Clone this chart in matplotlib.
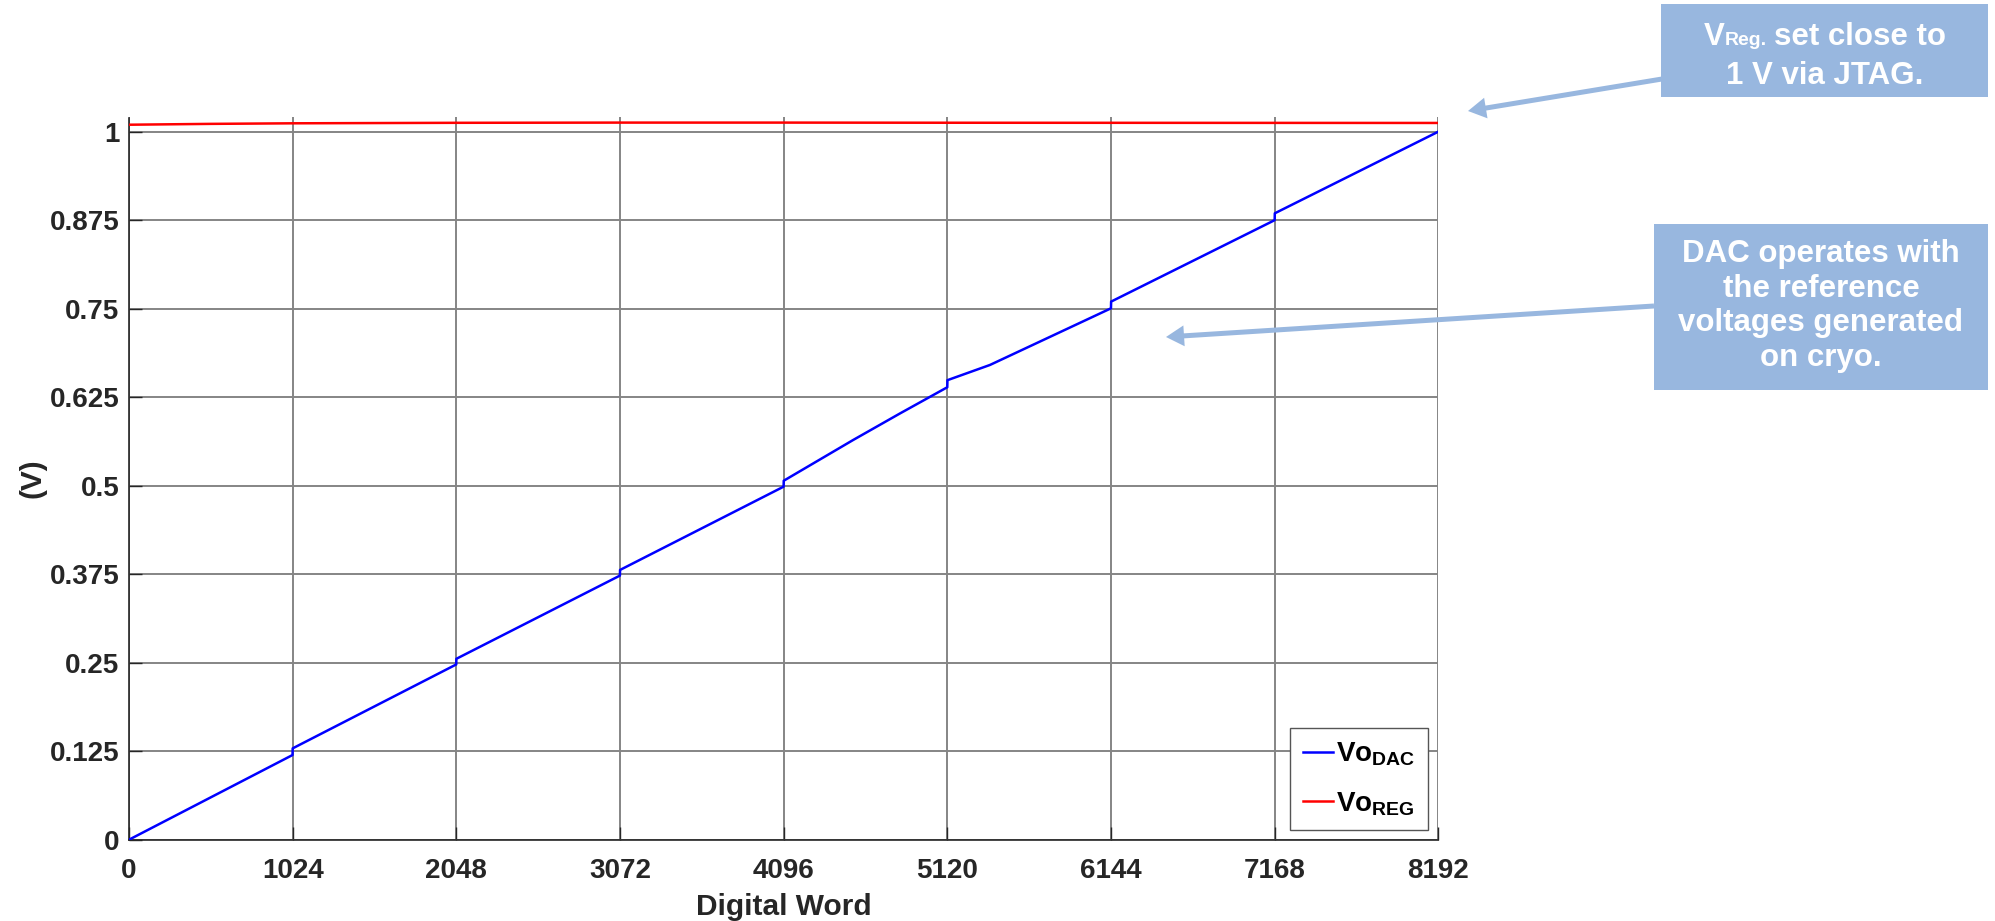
import matplotlib.pyplot as plt
from matplotlib.patches import Rectangle, FancyArrowPatch, ArrowStyle

plt.rcParams['font.family'] = ['Liberation Sans', 'DejaVu Sans']
plt.rcParams['font.weight'] = 'bold'
plt.rcParams['mathtext.fontset'] = 'custom'
plt.rcParams['mathtext.rm'] = 'Liberation Sans:bold'
plt.rcParams['mathtext.bf'] = 'Liberation Sans:bold'
plt.rcParams['mathtext.it'] = 'Liberation Sans:bold'

# DAC output vs digital word (jumps at each 1024 boundary)
dac_word = [0, 1023, 1024, 2047, 2048, 3071, 3072, 4095, 4096, 4530, 4823, 5119,
            5120, 5386, 6143, 6144, 7167, 7168, 8191]
dac_volt = [0.0, 0.1196, 0.129, 0.2475, 0.2555, 0.373, 0.381, 0.4986, 0.507, 0.5645,
            0.602, 0.639, 0.649, 0.6705, 0.7505, 0.760, 0.875, 0.8847, 1.0]

# regulator output, set close to 1 V
reg_word = [0, 512, 1024, 2048, 3072, 4096, 5120, 6144, 7168, 8191]
reg_volt = [1.0098, 1.0110, 1.0118, 1.0125, 1.0128, 1.0128, 1.0126, 1.0125, 1.0124, 1.0123]

xticks = [0, 1024, 2048, 3072, 4096, 5120, 6144, 7168, 8192]
yticks = [0, 0.125, 0.25, 0.375, 0.5, 0.625, 0.75, 0.875, 1]
ytick_labels = ['0', '0.125', '0.25', '0.375', '0.5', '0.625', '0.75', '0.875', '1']

W, H = 1995, 921
def px(x, y):
    return (x / W, 1 - y / H)

box_color = '#98b7df'
txt_color = '#262626'

fig = plt.figure(figsize=(W / 100, H / 100), dpi=100)
ax = fig.add_axes([129 / W, 1 - 839.7 / H, 1309.5 / W, 722.2 / H])

ax.plot(dac_word, dac_volt, color='#0000ff', lw=1.8, label=r'$\mathbf{Vo_{DAC}}$', zorder=3)
ax.plot(reg_word, reg_volt, color='#ff0000', lw=1.8, label=r'$\mathbf{Vo_{REG}}$', zorder=3)

ax.set_xlim(0, 8192)
ax.set_ylim(0, 1.02)
ax.set_xticks(xticks)
ax.set_yticks(yticks)
ax.set_yticklabels(ytick_labels)
ax.grid(True, color='#858585', lw=1.4)
ax.set_axisbelow(True)
for s in ['top', 'right']:
    ax.spines[s].set_visible(False)
for s in ['left', 'bottom']:
    ax.spines[s].set_color(txt_color)
    ax.spines[s].set_linewidth(1.2)
ax.tick_params(direction='in', length=9.4, width=1, colors=txt_color, labelsize=20)
ax.tick_params(axis='x', pad=13)
ax.tick_params(axis='y', pad=7)
for lab in ax.get_xticklabels() + ax.get_yticklabels():
    lab.set_fontweight('bold')

ax.set_xlabel('Digital Word', fontsize=21.5, fontweight='bold', color=txt_color, labelpad=7)
ax.set_ylabel('(V)', fontsize=21.5, fontweight='bold', color=txt_color, labelpad=2)

leg = ax.legend(loc='lower right', bbox_to_anchor=(0.992, 0.0134), borderaxespad=0,
                fontsize=20, handlelength=1.1, handletextpad=0.1, labelspacing=0.8,
                borderpad=0.45, fancybox=False, framealpha=1)
leg.get_frame().set_edgecolor('#555555')
leg.get_frame().set_linewidth(1.0)

# callout boxes
x0, y0 = px(1661, 97)
fig.add_artist(Rectangle((x0, y0), 327 / W, 93 / H, transform=fig.transFigure,
                         facecolor=box_color, edgecolor='none'))
x0, y0 = px(1654, 390)
fig.add_artist(Rectangle((x0, y0), 334 / W, 166 / H, transform=fig.transFigure,
                         facecolor=box_color, edgecolor='none'))

# first line of box 1: large V, small "Reg.", then the rest
renderer = fig.canvas.get_renderer()
parts = [('V', 22.5, 0), ('Reg.', 14, 0), ('set close to', 22.5, 8)]
texts = []
total = 0
for s, size, gap in parts:
    t = fig.text(0, 0, s, fontsize=size, fontweight='bold', color='white',
                 ha='left', va='baseline')
    w = t.get_window_extent(renderer).width
    texts.append((t, w, gap))
    total += w + gap
xcur = 1825 - total / 2
for t, w, gap in texts:
    xcur += gap
    t.set_position(px(xcur, 45))
    xcur += w
fig.text(*px(1825, 84), '1 V via JTAG.', fontsize=22.5, fontweight='bold',
         color='white', ha='center', va='baseline')

fig.text(*px(1821, 306), 'DAC operates with\nthe reference\nvoltages generated\non cryo.',
         fontsize=22.5, fontweight='bold', color='white', ha='center', va='center',
         linespacing=1.2)

# arrows pointing into the plot
style = ArrowStyle.Simple(head_length=13, head_width=15, tail_width=3.6)
for tail, tip in [((1662, 79), (1468, 111)), ((1654, 306), (1166, 337))]:
    fig.add_artist(FancyArrowPatch(px(*tail), px(*tip), transform=fig.transFigure,
                                   arrowstyle=style, color=box_color, lw=0,
                                   shrinkA=0, shrinkB=0))

fig.savefig('out.png', dpi=100)
